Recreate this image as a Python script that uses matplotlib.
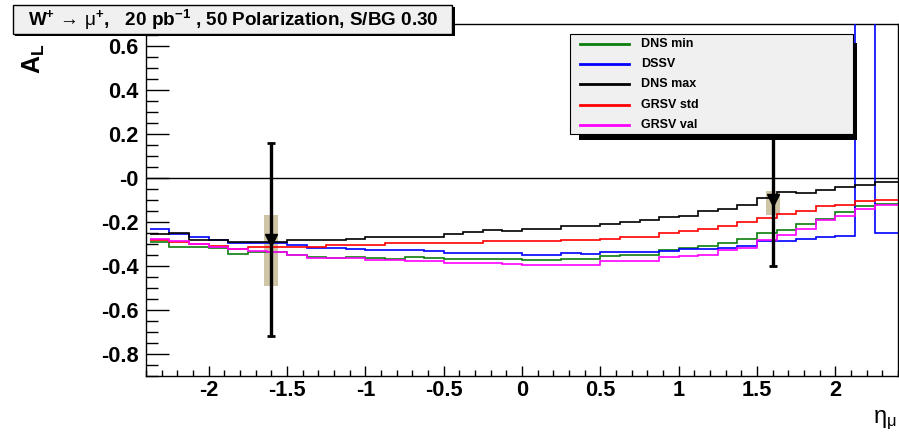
import numpy as np
import matplotlib
matplotlib.use("Agg")
import matplotlib.pyplot as plt
from matplotlib.patches import Rectangle
from matplotlib.lines import Line2D
from matplotlib.ticker import MultipleLocator, FuncFormatter

plt.rcParams["font.family"] = ["Liberation Sans", "DejaVu Sans"]
plt.rcParams["font.weight"] = "bold"
plt.rcParams["mathtext.fontset"] = "custom"
plt.rcParams["mathtext.rm"] = "Liberation Sans:weight=normal"
plt.rcParams["mathtext.bf"] = "Liberation Sans:weight=bold"
plt.rcParams["mathtext.it"] = "Liberation Sans:italic:weight=normal"

# ---- data -------------------------------------------------------------
# eta bins of width 0.125 (left edge of the first drawn bin at -2.375)
bin_edges = np.arange(-2.375, 2.5 + 1e-9, 0.125)

dns_min = [-0.292, -0.313, -0.313, -0.318, -0.345, -0.335, -0.335, -0.352,
           -0.358, -0.362, -0.358, -0.362, -0.367, -0.360, -0.362, -0.366,
           -0.370, -0.366, -0.368, -0.371, -0.371, -0.366, -0.366, -0.356,
           -0.350, -0.350, -0.325, -0.318, -0.310, -0.295, -0.277, -0.250,
           -0.237, -0.209, -0.186, -0.156, -0.128, -0.118, -0.118]
dssv = [-0.231, -0.255, -0.268, -0.280, -0.295, -0.295, -0.295, -0.305,
        -0.318, -0.320, -0.322, -0.325, -0.325, -0.325, -0.333, -0.340,
        -0.340, -0.340, -0.340, -0.351, -0.351, -0.340, -0.347, -0.338,
        -0.338, -0.338, -0.330, -0.322, -0.322, -0.318, -0.310, -0.288,
        -0.288, -0.277, -0.268, -0.262, 1.200, -0.250, -0.250]
dns_max = [-0.253, -0.250, -0.280, -0.284, -0.292, -0.292, -0.292, -0.283,
           -0.283, -0.283, -0.275, -0.268, -0.268, -0.268, -0.268, -0.254,
           -0.247, -0.238, -0.239, -0.231, -0.231, -0.219, -0.219, -0.209,
           -0.201, -0.189, -0.178, -0.171, -0.152, -0.140, -0.121, -0.090,
           -0.062, -0.068, -0.055, -0.040, -0.033, -0.018, -0.018]
grsv_std = [-0.283, -0.290, -0.300, -0.308, -0.321, -0.315, -0.315, -0.315,
            -0.315, -0.306, -0.306, -0.306, -0.295, -0.295, -0.295, -0.295,
            -0.295, -0.288, -0.288, -0.288, -0.288, -0.283, -0.283, -0.277,
            -0.268, -0.268, -0.250, -0.239, -0.231, -0.219, -0.201, -0.183,
            -0.163, -0.148, -0.128, -0.121, -0.106, -0.098, -0.098]
grsv_val = [-0.275, -0.288, -0.300, -0.312, -0.322, -0.330, -0.335, -0.352,
            -0.363, -0.365, -0.365, -0.372, -0.372, -0.377, -0.377, -0.385,
            -0.387, -0.385, -0.392, -0.394, -0.394, -0.394, -0.394, -0.375,
            -0.375, -0.375, -0.359, -0.353, -0.348, -0.328, -0.318, -0.284,
            -0.257, -0.234, -0.189, -0.174, -0.143, -0.124, -0.124]

series_names = ["DNS min", "DSSV", "DNS max", "GRSV std", "GRSV val"]
series_values = [dns_min, dssv, dns_max, grsv_std, grsv_val]
series_colors = ["#0d7d0d", "#0000ff", "#000000", "#ff0000", "#ff00ff"]

# projected measurement points
point_eta = [-1.6, 1.6]
point_al = [-0.28, -0.10]
point_stat = [0.44, 0.30]
sys_low = [-0.49, -0.17]
sys_high = [-0.17, -0.06]

x_ticks = [-2, -1.5, -1, -0.5, 0, 0.5, 1, 1.5, 2]
y_ticks = [-0.8, -0.6, -0.4, -0.2, 0.0, 0.2, 0.4, 0.6]

title = (r"W$^{\mathbf{+}}\,\rightarrow\,\mathrm{\mu}^{\mathbf{+}}$,   "
         r"20 pb$^{\mathbf{-1}}$ , 50 Polarization, S/BG 0.30")

# ---- figure -----------------------------------------------------------
W, H = 899, 437
fig = plt.figure(figsize=(W / 100, H / 100), dpi=100)
fig.patch.set_facecolor("white")


def fx(px):
    return px / W


def fy(py):
    return 1 - py / H


ax = fig.add_axes([fx(146), fy(376), fx(898) - fx(146), (376 - 24) / H])
ax.set_xlim(-2.4, 2.4)
ax.set_ylim(-0.9, 0.7)

# reference line at zero asymmetry
ax.axhline(0.0, color="black", lw=1.0, zorder=1)

for name, vals, col, z in zip(series_names, series_values, series_colors,
                              range(2, 7)):
    ax.stairs(vals, bin_edges, baseline=None, color=col, lw=1.2, zorder=z)

# systematic boxes, statistical error bars and markers
box_half = 0.045
for xe, lo, hi in zip(point_eta, sys_low, sys_high):
    ax.add_patch(Rectangle((xe - box_half, lo), 2 * box_half, hi - lo,
                           facecolor="#cdc5a6", edgecolor="none", zorder=1.5))
ax.errorbar(point_eta, point_al, yerr=point_stat, fmt="v", color="black",
            ms=8, lw=2.4, capsize=3, capthick=2, zorder=10)

# axes styling
for s in ax.spines.values():
    s.set_linewidth(1.0)
ax.xaxis.set_major_locator(plt.FixedLocator(x_ticks))
ax.xaxis.set_minor_locator(MultipleLocator(0.1))
ax.yaxis.set_major_locator(plt.FixedLocator(y_ticks))
ax.yaxis.set_minor_locator(MultipleLocator(0.05))
ax.xaxis.set_major_formatter(
    FuncFormatter(lambda v, p: "0" if abs(v) < 1e-9 else f"{v:g}"))
ax.yaxis.set_major_formatter(
    FuncFormatter(lambda v, p: "-0" if abs(v) < 1e-9 else f"{v:.1f}"))
ax.tick_params(axis="y", which="major", direction="in", length=16.5,
               width=1.0, labelsize=15.7, pad=5.5)
ax.tick_params(axis="y", which="minor", direction="in", length=8.5, width=1.0)
ax.tick_params(axis="x", which="major", direction="in", length=7,
               width=1.0, labelsize=15.7, pad=3)
ax.tick_params(axis="x", which="minor", direction="in", length=4, width=1.0)

# axis titles
fig.text(fx(34), fy(44), r"$\mathbf{A}_{\mathbf{L}}$", rotation=90,
         ha="center", va="top", fontsize=18)
fig.text(fx(897), fy(432), r"$\mathrm{\eta}_{\mathrm{\mu}}$",
         ha="right", va="bottom", fontsize=17, fontweight="normal")

# title box
fig.add_artist(Rectangle((fx(15), fy(36)), fx(455) - fx(15), (36 - 7) / H,
                         transform=fig.transFigure, facecolor="black",
                         edgecolor="none", zorder=5))
fig.add_artist(Rectangle((fx(13), fy(34)), fx(452) - fx(13), (34 - 5) / H,
                         transform=fig.transFigure, facecolor="#f0f0f0",
                         edgecolor="black", lw=1.0, zorder=6))
fig.text(fx(28), fy(20), title, ha="left", va="center", fontsize=13.6,
         zorder=7)

# legend box with drop shadow
fig.add_artist(Rectangle((fx(579), fy(140)), fx(857) - fx(579), (140 - 43) / H,
                         transform=fig.transFigure, facecolor="black",
                         edgecolor="none", zorder=5))
fig.add_artist(Rectangle((fx(570), fy(134)), fx(853) - fx(570), (134 - 34) / H,
                         transform=fig.transFigure, facecolor="#f0f0f0",
                         edgecolor="black", lw=0.8, zorder=6))
row_y = 44
for name, col in zip(series_names, series_colors):
    fig.add_artist(Line2D([fx(580), fx(629)], [fy(row_y), fy(row_y)],
                          transform=fig.transFigure, color=col, lw=2.0,
                          zorder=7))
    fig.text(fx(641), fy(row_y), name, ha="left", va="center", fontsize=9,
             zorder=7)
    row_y += 20.2

fig.savefig("out.png", dpi=100)
